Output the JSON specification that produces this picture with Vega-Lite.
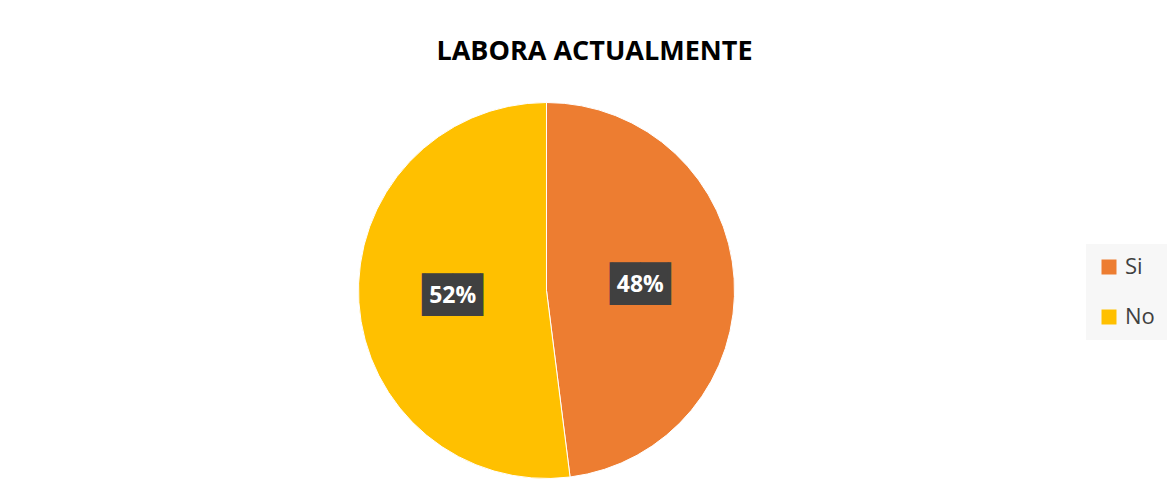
{
  "$schema": "https://vega.github.io/schema/vega-lite/v6.json",
  "width": 400,
  "height": 400,
  "autosize": {"type": "none"},
  "padding": {"left": 346.5, "top": 90.5, "right": 423.5, "bottom": 10.5},
  "background": "white",
  "title": {
    "text": "LABORA ACTUALMENTE",
    "font": "Open Sans",
    "fontSize": 27,
    "fontWeight": "bold",
    "color": "#000000",
    "dx": 48,
    "offset": 4,
    "baseline": "alphabetic"
  },
  "data": {
    "values": [
      {"respuesta": "Si", "valor": 48, "orden": 1, "etiqueta": "48%"},
      {"respuesta": "No", "valor": 52, "orden": 2, "etiqueta": "52%"}
    ]
  },
  "encoding": {
    "theta": {"field": "valor", "type": "quantitative", "stack": true},
    "order": {"field": "orden", "type": "quantitative"}
  },
  "layer": [
    {
      "mark": {"type": "arc", "outerRadius": 188, "stroke": "#ffffff", "strokeWidth": 1},
      "encoding": {
        "color": {
          "field": "respuesta",
          "type": "nominal",
          "scale": {"domain": ["Si", "No"], "range": ["#ED7D31", "#FFC000"]},
          "legend": {
            "title": null,
            "orient": "none",
            "legendX": 739.5,
            "legendY": 153.5,
            "symbolType": "square",
            "symbolSize": 225,
            "symbolStrokeWidth": 0,
            "labelFont": "Open Sans",
            "labelFontSize": 22,
            "labelColor": "#404040",
            "labelOffset": 5,
            "fillColor": "#f7f7f7",
            "padding": 12,
            "rowPadding": 28
          }
        }
      }
    },
    {
      "mark": {"type": "text", "radius": 94, "text": "▕██▏", "font": "DejaVu Sans", "fontSize": 36, "color": "#404040"}
    },
    {
      "mark": {"type": "text", "radius": 94, "font": "Open Sans", "fontWeight": "bold", "fontSize": 23, "color": "#ffffff"},
      "encoding": {"text": {"field": "etiqueta", "type": "nominal"}}
    }
  ],
  "config": {"view": {"stroke": null}}
}
